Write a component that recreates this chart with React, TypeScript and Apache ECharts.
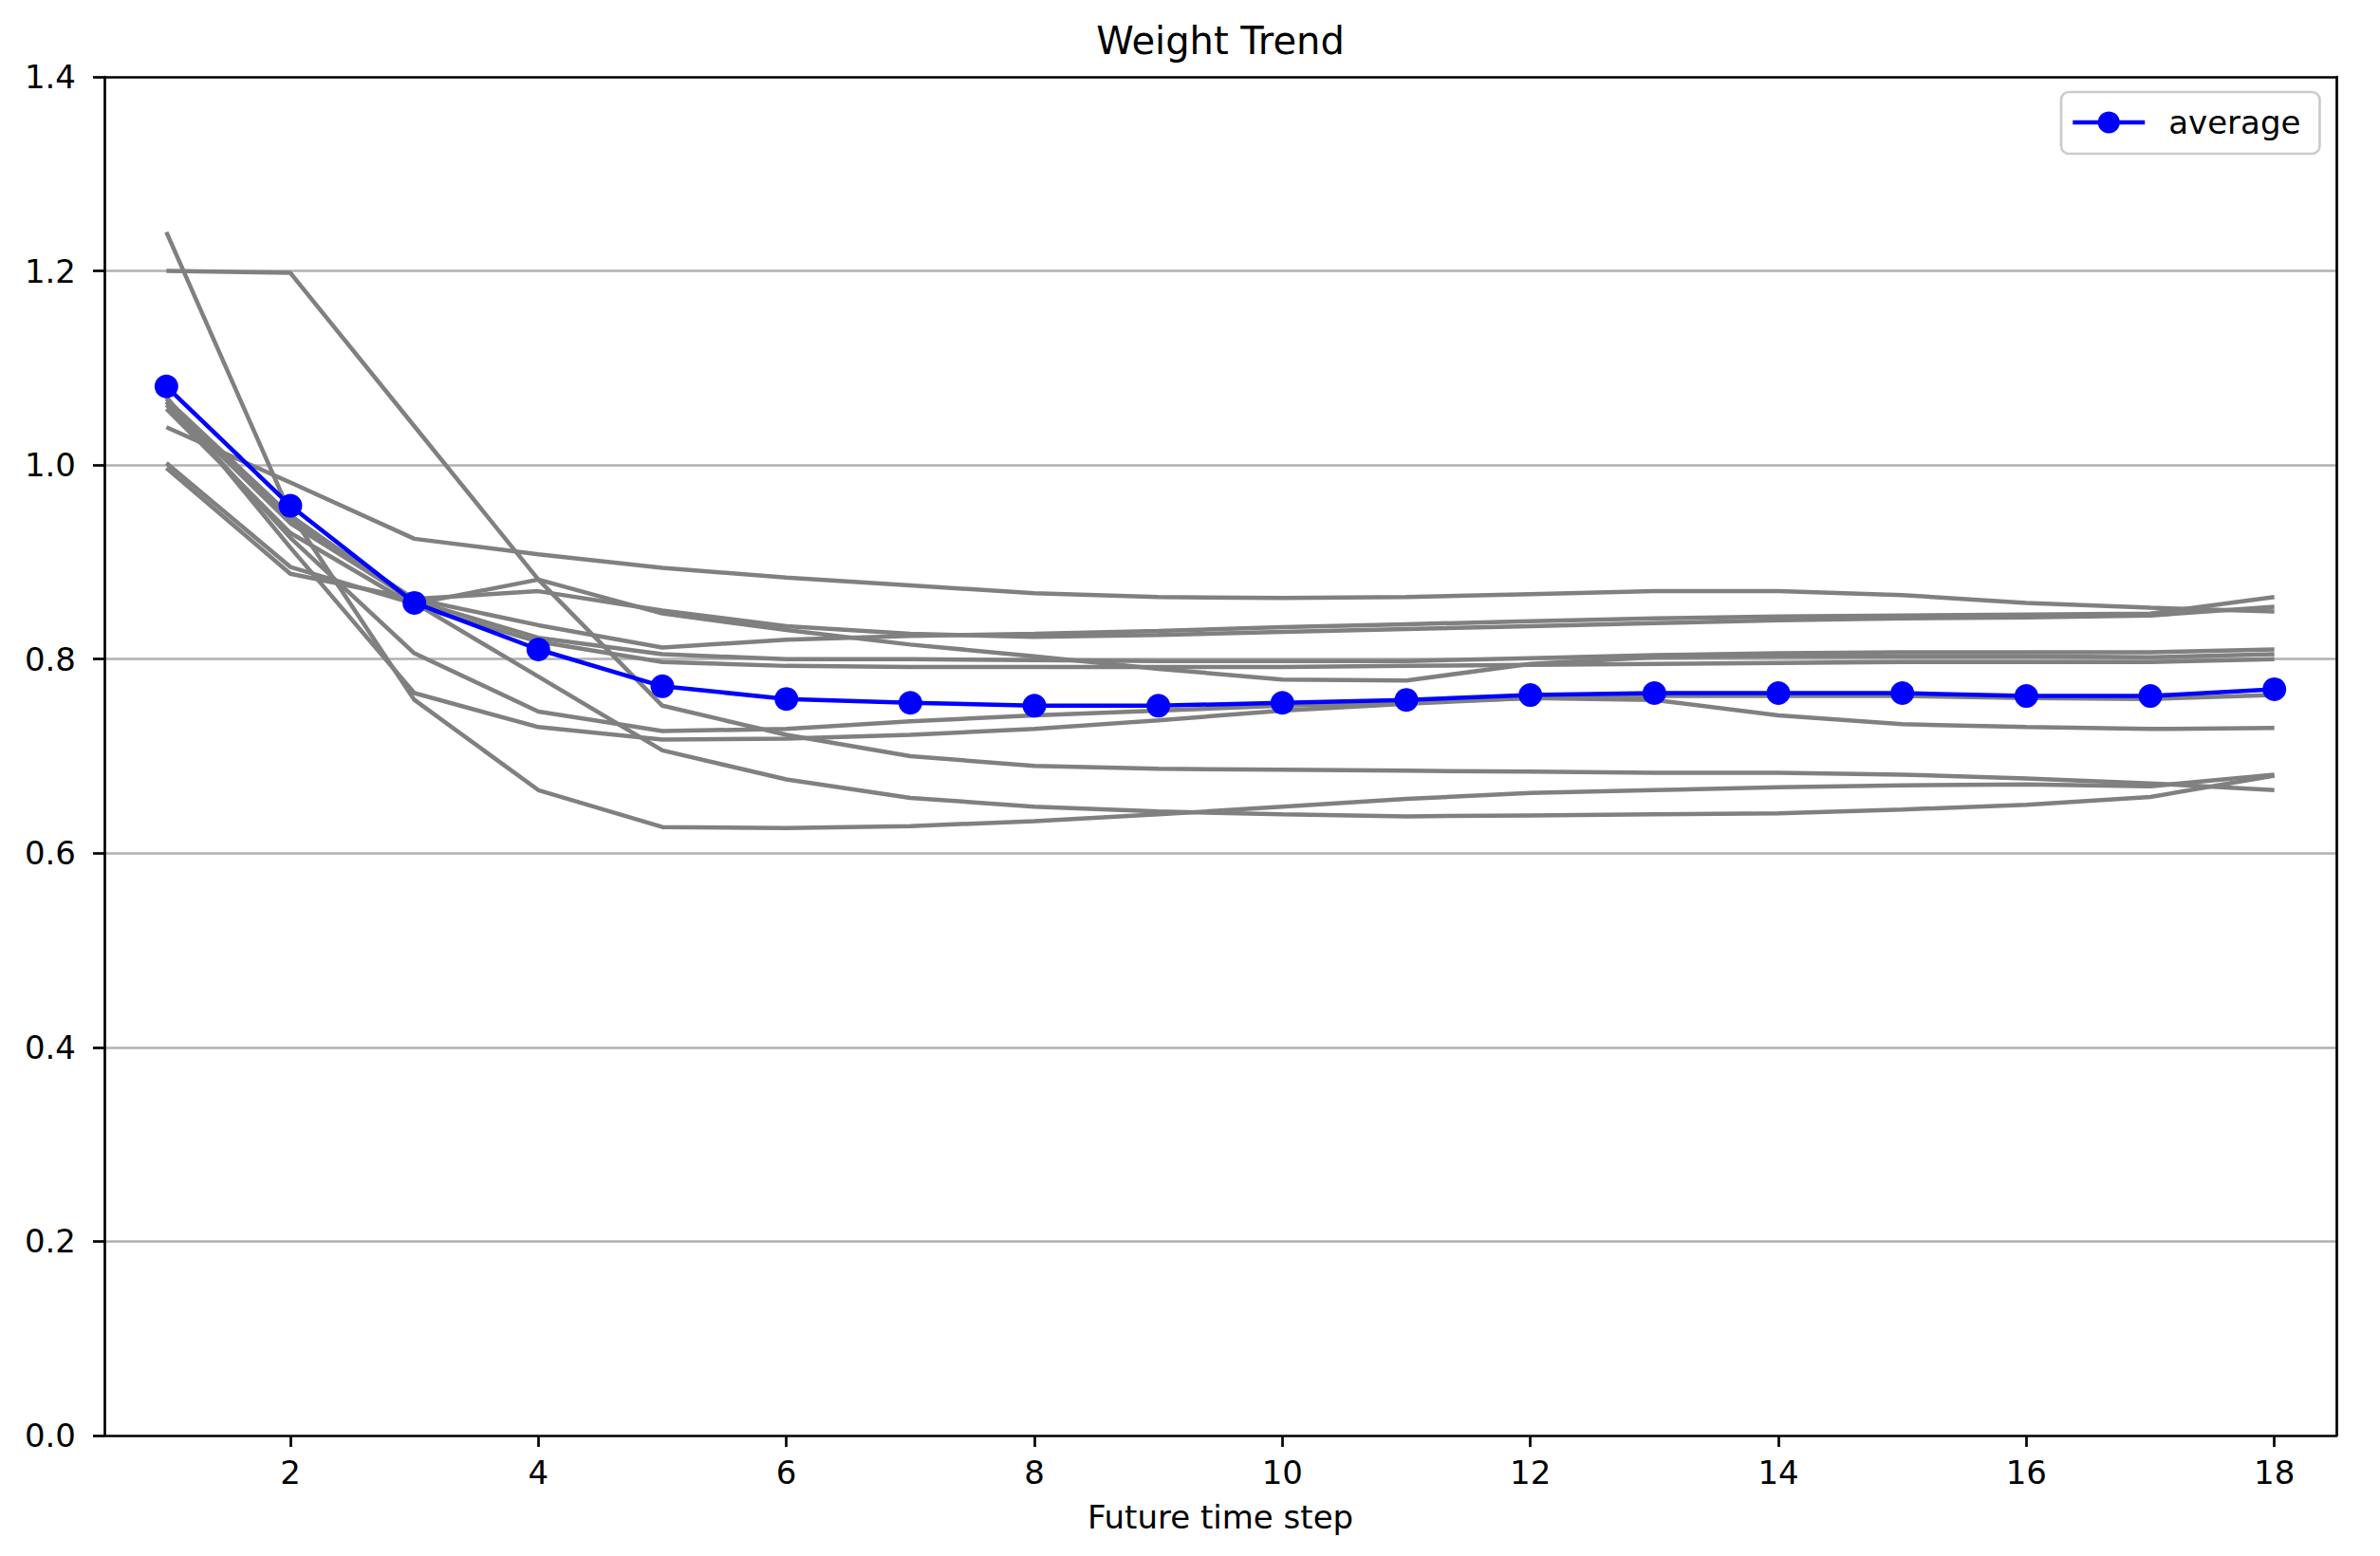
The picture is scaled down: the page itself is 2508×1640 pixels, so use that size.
import React, { useEffect, useRef } from "react";
import * as echarts from "echarts";

// ---- data ----
const steps = [1, 2, 3, 4, 5, 6, 7, 8, 9, 10, 11, 12, 13, 14, 15, 16, 17, 18];
const xTicks = [2, 4, 6, 8, 10, 12, 14, 16, 18];
const yMin = 0;
const yMax = 1.4;
const yStep = 0.2;

const run1 = [1.240, 0.950, 0.758, 0.665, 0.627, 0.626, 0.628, 0.633, 0.640, 0.648, 0.656, 0.662, 0.665, 0.668, 0.670, 0.671, 0.669, 0.681];
const run2 = [1.200, 1.198, 1.040, 0.882, 0.752, 0.722, 0.700, 0.690, 0.687, 0.686, 0.685, 0.684, 0.683, 0.683, 0.681, 0.677, 0.672, 0.665];
const run3 = [1.039, 0.982, 0.924, 0.908, 0.894, 0.884, 0.876, 0.868, 0.864, 0.863, 0.864, 0.867, 0.870, 0.870, 0.866, 0.858, 0.853, 0.849];
const run4 = [0.997, 0.888, 0.862, 0.835, 0.812, 0.820, 0.824, 0.826, 0.829, 0.833, 0.836, 0.839, 0.842, 0.844, 0.845, 0.846, 0.847, 0.864];
const run5 = [1.062, 0.945, 0.862, 0.870, 0.850, 0.834, 0.826, 0.823, 0.825, 0.828, 0.831, 0.834, 0.837, 0.840, 0.842, 0.843, 0.845, 0.854];
const run6 = [1.002, 0.895, 0.857, 0.882, 0.847, 0.830, 0.815, 0.803, 0.790, 0.779, 0.778, 0.795, 0.802, 0.803, 0.803, 0.803, 0.802, 0.805];
const run7 = [1.065, 0.940, 0.860, 0.822, 0.805, 0.800, 0.800, 0.799, 0.798, 0.798, 0.798, 0.801, 0.804, 0.806, 0.807, 0.807, 0.807, 0.810];
const run8 = [1.058, 0.930, 0.855, 0.818, 0.797, 0.793, 0.792, 0.792, 0.792, 0.792, 0.793, 0.794, 0.795, 0.796, 0.797, 0.797, 0.797, 0.800];
const run9 = [1.068, 0.948, 0.858, 0.782, 0.706, 0.676, 0.657, 0.648, 0.643, 0.640, 0.638, 0.639, 0.640, 0.641, 0.645, 0.650, 0.658, 0.680];
const run10 = [1.065, 0.925, 0.806, 0.746, 0.726, 0.728, 0.736, 0.742, 0.747, 0.752, 0.755, 0.760, 0.762, 0.762, 0.762, 0.760, 0.759, 0.763];
const run11 = [1.070, 0.915, 0.765, 0.730, 0.717, 0.718, 0.722, 0.728, 0.737, 0.747, 0.754, 0.760, 0.758, 0.742, 0.733, 0.730, 0.728, 0.729];
const runs = [run1, run2, run3, run4, run5, run6, run7, run8, run9, run10, run11];

const average = [1.081, 0.958, 0.858, 0.810, 0.772, 0.759, 0.755, 0.752, 0.752, 0.755, 0.758, 0.763, 0.765, 0.765, 0.765, 0.762, 0.762, 0.769];

const titleText = "Weight Trend";
const xLabelText = "Future time step";
const averageName = "average";

export default function App() {
  const ref = useRef<HTMLDivElement>(null);

  useEffect(() => {
    if (!ref.current) return;
    const chart = echarts.init(ref.current, null, { renderer: "svg" });
    const FONT = "DejaVu Sans";
    const frame = { color: "#000000", width: 2.7 };

    const greySeries = runs.map((r, k) => ({
      name: `run ${k + 1}`,
      type: "line",
      data: steps.map((s, j) => [s, r[j]]),
      symbol: "none",
      showSymbol: false,
      silent: true,
      z: 2,
      lineStyle: { color: "#808080", width: 4.5 },
      itemStyle: { color: "#808080" },
    }));

    chart.setOption({
      animation: false,
      backgroundColor: "#ffffff",
      grid: {
        left: 110,
        top: 81,
        width: 2352,
        height: 1432,
        show: false,
        containLabel: false,
        outerBoundsMode: "none",
      },
      xAxis: [
        {
          type: "value",
          position: "bottom",
          min: 0.5,
          max: 18.5,
          splitLine: { show: false },
          axisLine: { show: true, onZero: false, lineStyle: frame },
          axisTick: {
            show: true,
            inside: false,
            length: 12,
            customValues: xTicks,
            lineStyle: frame,
          },
          axisLabel: {
            customValues: xTicks,
            margin: 22,
            fontFamily: FONT,
            fontSize: 34,
            color: "#000000",
          },
        },
        {
          type: "value",
          position: "top",
          min: 0.5,
          max: 18.5,
          splitLine: { show: false },
          axisLine: { show: true, onZero: false, lineStyle: frame },
          axisTick: { show: false },
          axisLabel: { show: false },
        },
      ],
      yAxis: [
        {
          type: "value",
          position: "left",
          min: yMin,
          max: yMax,
          interval: yStep,
          splitLine: {
            show: true,
            showMinLine: false,
            showMaxLine: false,
            lineStyle: { color: "#b0b0b0", width: 2.7 },
          },
          axisLine: { show: true, onZero: false, lineStyle: frame },
          axisTick: {
            show: true,
            inside: false,
            length: 12,
            lineStyle: frame,
          },
          axisLabel: {
            margin: 30,
            fontFamily: FONT,
            fontSize: 34,
            color: "#000000",
            formatter: (v: number) => v.toFixed(1),
          },
        },
        {
          type: "value",
          position: "right",
          min: yMin,
          max: yMax,
          interval: yStep,
          splitLine: { show: false },
          axisLine: { show: true, onZero: false, lineStyle: frame },
          axisTick: { show: false },
          axisLabel: { show: false },
        },
      ],
      legend: {
        data: [averageName],
        left: 2172,
        top: 97,
        orient: "horizontal",
        selectedMode: false,
        itemWidth: 76,
        itemHeight: 29,
        itemGap: 0,
        padding: [15, 20, 16, 10],
        backgroundColor: "rgba(255,255,255,0.8)",
        borderColor: "#cccccc",
        borderWidth: 2.7,
        borderRadius: 8,
        lineStyle: { width: 4.5, color: "#0000ff" },
        textStyle: {
          fontFamily: FONT,
          fontSize: 34,
          lineHeight: 34,
          color: "#000000",
          padding: [0, 0, 0, 20],
        },
      },
      graphic: [
        {
          type: "text",
          x: 1286,
          y: 43,
          style: {
            text: titleText,
            fontFamily: FONT,
            fontSize: 40,
            fill: "#000000",
            align: "center",
            verticalAlign: "middle",
          },
        },
        {
          type: "text",
          x: 1286,
          y: 1599,
          style: {
            text: xLabelText,
            fontFamily: FONT,
            fontSize: 34,
            fill: "#000000",
            align: "center",
            verticalAlign: "middle",
          },
        },
      ],
      series: [
        ...greySeries,
        {
          name: averageName,
          type: "line",
          data: steps.map((s, j) => [s, average[j]]),
          symbol: "circle",
          symbolSize: 25,
          showSymbol: true,
          z: 3,
          lineStyle: { color: "#0000ff", width: 4.5 },
          itemStyle: { color: "#0000ff" },
        },
      ],
    });

    return () => {
      chart.dispose();
    };
  }, []);

  return (
    <div
      ref={ref}
      style={{ position: "absolute", left: 0, top: 0, width: 2508, height: 1640 }}
    />
  );
}
